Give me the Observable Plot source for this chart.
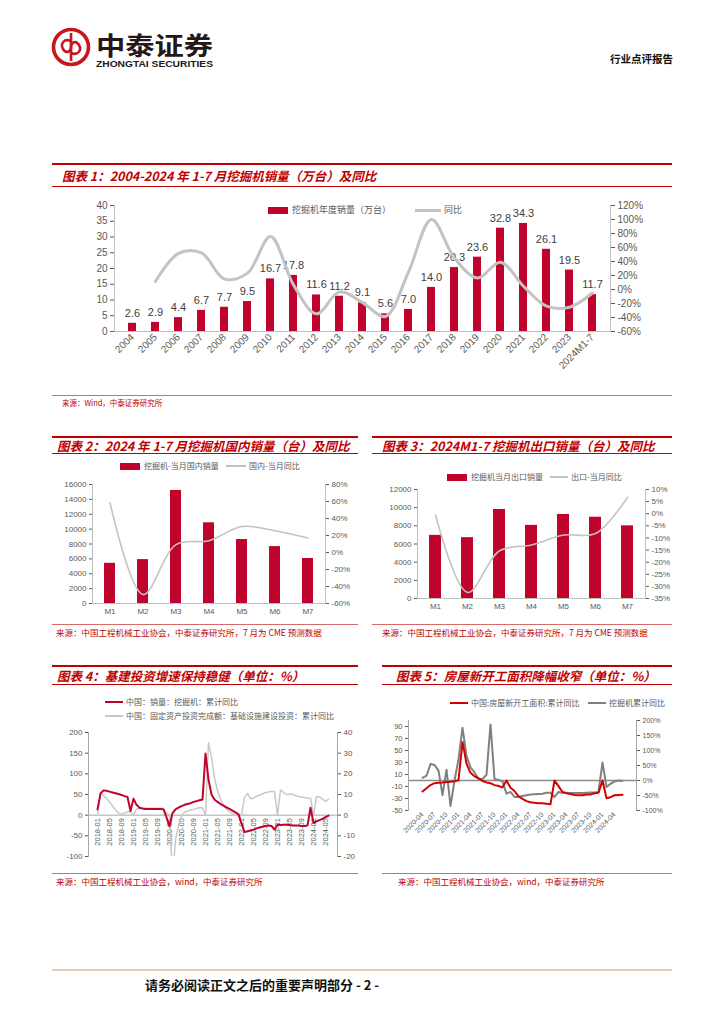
<!DOCTYPE html>
<html>
<head>
<meta charset="utf-8">
<script src="https://cdn.jsdelivr.net/npm/d3@7"></script>
<script src="https://cdn.jsdelivr.net/npm/@observablehq/plot@0.6"></script>
<style>
html,body{margin:0;padding:0;background:#fff;}
#page{position:relative;width:724px;height:1024px;overflow:hidden;background:#fff;font-family:"Noto Sans CJK SC","Noto Sans",sans-serif;}
#page > *{position:absolute;}
.t{color:#c00000;font-weight:bold;font-style:italic;font-size:12.5px;line-height:16px;white-space:nowrap;}
.r2{height:2px;background:#c00000;}
.r1{height:1px;background:#d86a6a;}
.src{color:#c00000;font-size:8.5px;line-height:10px;white-space:nowrap;}
.lg{font-size:8.5px;line-height:10px;color:#595959;white-space:nowrap;}
</style>
</head>
<body>
<div id="page"></div>
<script>
// ---------- Chart 1 data ----------
const years1 = ["2004","2005","2006","2007","2008","2009","2010","2011","2012","2013","2014","2015","2016","2017","2018","2019","2020","2021","2022","2023","2024M1-7"];
const sales1 = [2.6,2.9,4.4,6.7,7.7,9.5,16.7,17.8,11.6,11.2,9.1,5.6,7.0,14.0,20.3,23.6,32.8,34.3,26.1,19.5,11.7];
const yoy1   = [null,11.5,51.7,52.3,14.9,23.4,75.8,6.6,-34.8,-3.4,-18.8,-38.5,25.0,100.0,45.0,16.3,39.0,4.6,-23.9,-25.3,-5.0];

// ---------- Chart 2 / 3 data ----------
const months7 = ["M1","M2","M3","M4","M5","M6","M7"];
const domSales = [5400,5900,15200,10850,8600,7650,6050];
const domYoY   = [58.6,-49.5,9.2,13.9,30.6,25.6,17.0];
const expSales = [6950,6700,9800,8050,9250,8950,8000];
const expYoY   = [-0.5,-32.5,-15.3,-12.9,-8.8,-8.2,6.8];

// ---------- Chart 4 data (2018-01 .. 2024-06) ----------
const months4 = [];
for (let y = 2018; y <= 2024; y++) for (let m = 1; m <= 12; m++) { if (y === 2024 && m > 6) break; months4.push(y + "-" + String(m).padStart(2,"0")); }
const ticks4 = ["2018-01","2018-05","2018-09","2019-01","2019-05","2019-09","2020-01","2020-05","2020-09","2021-01","2021-05","2021-09","2022-01","2022-05","2022-09","2023-01","2023-05","2023-09","2024-01","2024-05"];
const excav4 = [14,52,60,59,57,55,53,51,49,46,44,10,40,25,18,16,15,15,15,15,15,15,14,-5,
  -27,5,14,18,22,25,27,29,32,34,36,38,149,86,50,38,32,27,23,19,15,11,7,2,
  -20,-41,-39,-37,-35,-32,-30,-28,-26,-25,-26,-35,-23,-24,-23,-23,-24,-25,-25,-25,-26,-26,-25,18,
  -19,-15,-12,-9,-5,-1];
const infra4 = [0,11,9.5,8,6.5,4.5,2.5,1,0.5,1,1.5,1.8,0,3,3.2,3.3,3.3,3.3,3.3,3.3,3.3,3.3,3.2,1,
  0,-30.3,-12,-5,-0.5,1.5,2.0,2.4,2.8,3.2,3.6,3.6,0,35,28,18,11.8,7.8,4.6,2.9,1.5,1.0,0.5,0.4,
  0,8.6,10.5,8.0,8.2,9.2,9.6,10.4,10.8,11.2,11.4,11.5,0,12.2,11.0,10.0,10.1,10.2,9.4,9.0,8.8,8.5,8.2,8.2,
  0,9.0,8.8,7.8,6.7,7.8];

// ---------- Chart 5 data (2020-04 .. 2024-06) ----------
const months5 = [];
for (let y = 2020; y <= 2024; y++) for (let m = 1; m <= 12; m++) { if (y === 2020 && m < 4) continue; if (y === 2024 && m > 6) break; months5.push(y + "-" + String(m).padStart(2,"0")); }
const ticks5 = ["2020-04","2020-07","2020-10","2021-01","2021-04","2021-07","2021-10","2022-01","2022-04","2022-07","2022-10","2023-01","2023-04","2023-07","2023-10","2024-01","2024-04"];
const starts5 = [-18.4,-12.8,-7.6,-4.5,-3.6,-3.4,-2.6,-2.0,-1.2,
  0.5,64.3,28.2,12.8,6.9,3.8,-0.9,-3.2,-4.5,-7.7,-9.1,-11.4,
  0,-12.2,-17.5,-26.3,-30.6,-34.4,-36.1,-37.2,-38.0,-37.8,-38.9,-39.4,
  0,-9.4,-19.2,-21.2,-22.6,-24.3,-24.5,-24.4,-23.4,-23.2,-21.2,-20.4,
  0,-29.7,-27.8,-24.6,-24.2,-23.7];
const excav5 = [9,16,55,52,33,-49,36,-85,0,71,176,82,44,27,5,5,19,187,5,2,-3,-44,-38,-55,-55,-52,-49,-47,-46,-45,-44,-41,-41,-55,-38,-41,-41,-42,-42,-42,-42,-41,-40,-40,-38,60,-22,-11,-3,0,-1];

// ---------- helpers ----------
const RED = "#c0032c";
const page = document.getElementById("page");
function el(tag, cls, css, text) {
  const e = document.createElement(tag);
  if (cls) e.className = cls;
  Object.assign(e.style, css);
  if (text != null) e.textContent = text;
  page.appendChild(e);
  return e;
}
function put(svg, left, top) {
  svg.style.position = "absolute";
  svg.style.left = left + "px";
  svg.style.top = top + "px";
  page.appendChild(svg);
}
const px = v => v + "px";
const plain = d => String(d);
const pct = d => d + "%";
const axStyle = {fontFamily: '"Liberation Sans", Arial, sans-serif', fontSize: "10px", color: "#595959", background: "transparent", overflow: "visible"};
const smallStyle = {...axStyle, fontSize: "8px"};
const AX = "#bfbfbf";

// ---------- header ----------
const hdr = document.createElementNS("http://www.w3.org/2000/svg", "svg");
hdr.setAttribute("width", "180"); hdr.setAttribute("height", "50");
hdr.style.left = "50px"; hdr.style.top = "24px";
hdr.innerHTML = `
  <circle cx="21" cy="23" r="17.5" fill="none" stroke="#c8161d" stroke-width="3.6"/>
  <line x1="21" y1="9" x2="21" y2="37" stroke="#c8161d" stroke-width="2.6"/>
  <path d="M21 17 C14 14,10 20,13 25 C16 30,21 28,21 23" fill="none" stroke="#c8161d" stroke-width="2.6"/>
  <path d="M21 29 C28 32,32 26,29 21 C26 16,21 18,21 23" fill="none" stroke="#c8161d" stroke-width="2.6"/>
  <text x="46" y="30.5" font-family="Noto Sans CJK SC" font-weight="bold" font-size="25" textLength="117" lengthAdjust="spacingAndGlyphs" fill="#231815">中泰证券</text>
  <text x="46" y="43" font-family="Liberation Sans" font-weight="bold" font-size="8.5" textLength="117" lengthAdjust="spacingAndGlyphs" fill="#231815">ZHONGTAI SECURITIES</text>`;
page.appendChild(hdr);
el("div", null, {left: "610px", top: "52px", fontSize: "10.5px", fontWeight: "bold", lineHeight: "14px", color: "#111"}, "行业点评报告");

// ---------- title blocks ----------
function titleBlock(x0, w, yTop, yBot, tx, text) {
  el("div", "r2", {left: px(x0), top: px(yTop), width: px(w)});
  el("div", "t", {left: px(tx), top: px((yTop + yBot) / 2 - 7)}, text);
  el("div", "r1", {left: px(x0), top: px(yBot), width: px(w), background: "#c00000"});
}
function source(x0, w, y, tx, text, fs) {
  el("div", "r1", {left: px(x0), top: px(y), width: px(w)});
  el("div", "src", {left: px(tx), top: px(y + 3), fontSize: px(fs)}, text);
}
titleBlock(52, 620, 163, 186, 62, "图表 1：2004-2024 年 1-7 月挖掘机销量（万台）及同比");
titleBlock(52, 306, 436, 453, 57, "图表 2：2024 年 1-7 月挖掘机国内销量（台）及同比");
titleBlock(372, 300, 436, 453, 382, "图表 3：2024M1-7 挖掘机出口销量（台）及同比");
titleBlock(52, 306, 665, 684, 57, "图表 4：基建投资增速保持稳健（单位：%）");
titleBlock(382, 290, 665, 684, 396, "图表 5：房屋新开工面积降幅收窄（单位：%）");

source(52, 620, 395, 62, "来源：Wind，中泰证券研究所", 7.5);
source(52, 306, 624, 56, "来源：中国工程机械工业协会，中泰证券研究所，7 月为 CME 预测数据", 8.5);
source(372, 300, 624, 382, "来源：中国工程机械工业协会，中泰证券研究所，7 月为 CME 预测数据", 8.5);
source(52, 306, 873, 56, "来源：中国工程机械工业协会，wind，中泰证券研究所", 8.5);
source(382, 290, 873, 398, "来源：中国工程机械工业协会，wind，中泰证券研究所", 8.5);

// footer
el("div", null, {left: "52px", top: "969px", width: "620px", height: "2px", background: "#e6cbb6"});
el("div", null, {left: "145px", top: "977px", fontSize: "13px", fontWeight: "bold", lineHeight: "16px", color: "#111"}, "请务必阅读正文之后的重要声明部分 - 2 -");

// legend helpers
function lgRect(x, y, color, label, fs) {
  el("div", null, {left: px(x), top: px(y - 3.5), width: "20px", height: "7px", background: color});
  el("div", "lg", {left: px(x + 24), top: px(y - 5), fontSize: px(fs)}, label);
}
function lgLine(x, y, w, color, sw, label, fs) {
  el("div", null, {left: px(x), top: px(y - sw / 2), width: px(w), height: px(sw), background: color});
  el("div", "lg", {left: px(x + w + 3), top: px(y - 5), fontSize: px(fs)}, label);
}

// ---------- Chart 1 ----------
const rows1 = years1.map((y, i) => ({year: y, sales: sales1[i], yoy: yoy1[i]}));
const band1 = {type: "band", domain: years1, paddingInner: 0.66, paddingOuter: 0.33};
const dim1 = {width: 620, height: 200, marginLeft: 62, marginRight: 62, marginTop: 10, marginBottom: 64};
put(Plot.plot({
  ...dim1, style: axStyle,
  x: {...band1, label: null, tickRotate: -45, tickSize: 0, tickPadding: 4},
  y: {domain: [0, 40], ticks: d3.range(0, 41, 5), tickFormat: plain, label: null, tickSize: 4, tickPadding: 3},
  marks: [
    Plot.barY(rows1, {x: "year", y: "sales", fill: RED}),
    Plot.text(rows1, {x: "year", y: "sales", text: d => d.sales.toFixed(1), dy: -10, fontSize: 11, fill: "#404040"}),
    Plot.ruleY([0], {stroke: AX}),
    Plot.frame({anchor: "left", stroke: AX})
  ]
}), 52, 195);
put(Plot.plot({
  ...dim1, style: axStyle,
  x: {...band1, axis: null},
  y: {domain: [-60, 120], ticks: d3.range(-60, 121, 20), tickFormat: pct, axis: "right", label: null, tickSize: 4, tickPadding: 3},
  marks: [
    Plot.frame({anchor: "right", stroke: AX}),
    Plot.line(rows1.filter(d => d.yoy != null), {x: "year", y: "yoy", curve: "catmull-rom", stroke: "#c3c3c3", strokeWidth: 3})
  ]
}), 52, 195);
lgRect(268, 210, RED, "挖掘机年度销量（万台）", 9);
lgLine(415, 210, 26, "#c3c3c3", 3, "同比", 9);

// ---------- Chart 2 & 3 ----------
function barLine(left, top, dims, months, bars, line, yDom, yTicks, y2Dom, y2Ticks, pad) {
  const rows = months.map((m, i) => ({m, v: bars[i], r: line[i]}));
  const band = {type: "band", domain: months, paddingInner: pad, paddingOuter: pad / 2};
  put(Plot.plot({
    ...dims, style: smallStyle,
    x: {...band, label: null, tickSize: 0, tickPadding: 5},
    y: {domain: yDom, ticks: yTicks, tickFormat: plain, label: null, tickSize: 3, tickPadding: 3},
    marks: [
      Plot.barY(rows, {x: "m", y: "v", fill: RED}),
      Plot.ruleY([0], {stroke: AX}),
      Plot.frame({anchor: "left", stroke: AX})
    ]
  }), left, top);
  put(Plot.plot({
    ...dims, style: smallStyle,
    x: {...band, axis: null},
    y: {domain: y2Dom, ticks: y2Ticks, tickFormat: pct, axis: "right", label: null, tickSize: 3, tickPadding: 3},
    marks: [
      Plot.frame({anchor: "right", stroke: AX}),
      Plot.line(rows, {x: "m", y: "r", curve: "catmull-rom", stroke: "#c3c3c3", strokeWidth: 1.6})
    ]
  }), left, top);
}
barLine(52, 474, {width: 306, height: 150, marginLeft: 40, marginRight: 33, marginTop: 10, marginBottom: 21},
  months7, domSales, domYoY, [0, 16000], d3.range(0, 16001, 2000), [-60, 80], d3.range(-60, 81, 20), 0.66);
lgRect(120, 466, RED, "挖掘机-当月国内销量", 8);
lgLine(226, 466, 20, "#c3c3c3", 1.5, "国内-当月同比", 8);

barLine(372, 479, {width: 300, height: 145, marginLeft: 45, marginRight: 27, marginTop: 10, marginBottom: 26},
  months7, expSales, expYoY, [0, 12000], d3.range(0, 12001, 2000), [-35, 10], d3.range(-35, 11, 5), 0.62);
lgRect(447, 477, RED, "挖掘机当月出口销量", 8);
lgLine(550, 477, 18, "#c3c3c3", 1.5, "出口-当月同比", 8);

// ---------- Chart 4 ----------
const rows4 = months4.map((m, i) => ({m, ex: excav4[i], inf: infra4[i]}));
const pt4 = {type: "point", domain: months4, padding: 0.1};
const dim4 = {width: 306, height: 150, marginLeft: 36, marginRight: 21, marginTop: 10, marginBottom: 16};
put(Plot.plot({
  ...dim4, style: smallStyle,
  x: {...pt4, axis: null},
  y: {domain: [-20, 40], ticks: d3.range(-20, 41, 10), tickFormat: plain, axis: "right", label: null, tickSize: 3, tickPadding: 3},
  marks: [
    Plot.frame({anchor: "right", stroke: "#a6a6a6"}),
    Plot.ruleY([0], {stroke: "#a6a6a6"}),
    Plot.text(ticks4, {x: d => d, y: 0, text: d => d, rotate: -90, textAnchor: "end", dy: 3, fontSize: 7.5, fill: "#595959"}),
    Plot.line(rows4, {x: "m", y: "inf", stroke: "#c8c8c8", strokeWidth: 1.5, clip: true})
  ]
}), 52, 722);
put(Plot.plot({
  ...dim4, style: smallStyle,
  x: {...pt4, axis: null},
  y: {domain: [-100, 200], ticks: d3.range(-100, 201, 50), tickFormat: plain, label: null, tickSize: 3, tickPadding: 3},
  marks: [
    Plot.frame({anchor: "left", stroke: "#a6a6a6"}),
    Plot.line(rows4, {x: "m", y: "ex", stroke: RED, strokeWidth: 2})
  ]
}), 52, 722);
lgLine(105, 702, 18, RED, 2.5, "中国：销量：挖掘机：累计同比", 8);
lgLine(105, 716, 18, "#c8c8c8", 1.5, "中国：固定资产投资完成额：基础设施建设投资：累计同比", 8);

// ---------- Chart 5 ----------
const rows5 = months5.map((m, i) => ({m, s: starts5[i], e: excav5[i]}));
const pt5 = {type: "point", domain: months5, padding: 0.1};
const dim5 = {width: 290, height: 140, marginLeft: 26, marginRight: 36, marginTop: 8, marginBottom: 42};
put(Plot.plot({
  ...dim5, style: {...smallStyle, fontSize: "7px"},
  x: {...pt5, ticks: ticks5, tickRotate: -45, tickSize: 0, tickPadding: 3, label: null},
  y: {domain: [-100, 200], ticks: d3.range(-100, 201, 50), tickFormat: pct, axis: "right", label: null, tickSize: 3, tickPadding: 3},
  marks: [
    Plot.frame({anchor: "right", stroke: "#a6a6a6"}),
    Plot.ruleY([0], {stroke: "#8c8c8c", strokeWidth: 1.5}),
    Plot.line(rows5, {x: "m", y: "e", stroke: "#808080", strokeWidth: 2})
  ]
}), 382, 712);
put(Plot.plot({
  ...dim5, style: {...smallStyle, fontSize: "7.5px"},
  x: {...pt5, axis: null},
  y: {domain: [-50, 100], ticks: d3.range(-50, 91, 20), tickFormat: plain, label: null, tickSize: 3, tickPadding: 3},
  marks: [
    Plot.frame({anchor: "left", stroke: "#a6a6a6"}),
    Plot.line(rows5, {x: "m", y: "s", stroke: "#d40000", strokeWidth: 2})
  ]
}), 382, 712);
lgLine(450, 703, 18, "#d40000", 2.5, "中国:房屋新开工面积:累计同比", 8);
lgLine(588, 703, 18, "#808080", 2.5, "挖掘机累计同比", 8);
</script>
</body>
</html>
